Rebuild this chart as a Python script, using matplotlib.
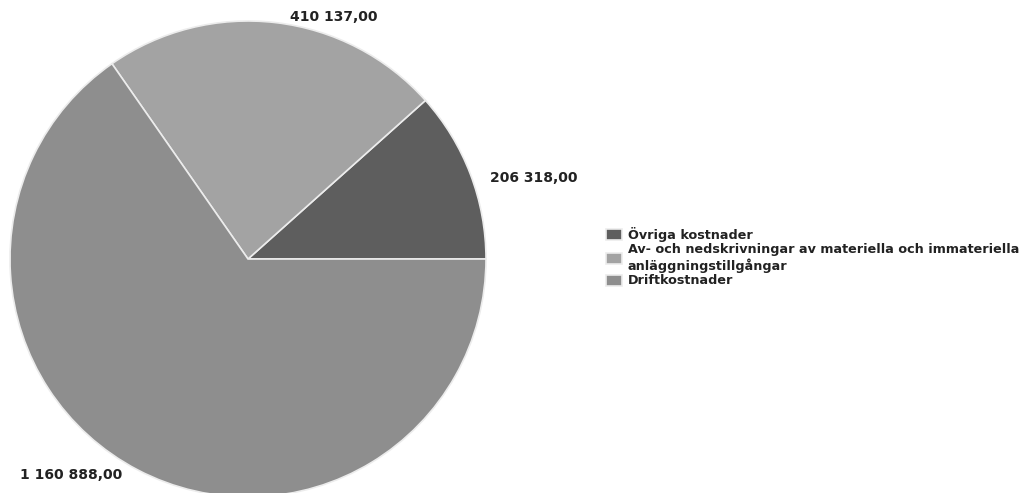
import matplotlib.pyplot as plt

# data
labels = ['Övriga kostnader',
          'Av- och nedskrivningar av materiella och immateriella\nanläggningstillgångar',
          'Driftkostnader']
values = [206318.00, 410137.00, 1160888.00]
value_text = ['206 318,00', '410 137,00', '1 160 888,00']
colors = ['#5e5e5e', '#a3a3a3', '#8e8e8e']

W, H = 1032, 493
fig = plt.figure(figsize=(W / 100, H / 100), dpi=100)

# pie centre at (248, 259) px, radius 238 px
cx, cy, r = 248, 259, 238
ax = fig.add_axes([(cx - r) / W, (H - cy - r) / H, 2 * r / W, 2 * r / H])
wedges, _ = ax.pie(values, colors=colors, startangle=0, counterclock=True,
                   radius=1, wedgeprops=dict(edgecolor='#ececec', linewidth=1.2))
ax.set_xlim(-1, 1)
ax.set_ylim(-1, 1)
ax.set_aspect('equal')
ax.axis('off')

# value labels (placed like the original)
lab_pos = [(490, 178), (290, 17), (20, 475)]
for (px, py), t in zip(lab_pos, value_text):
    fig.text(px / W, 1 - py / H, t, fontsize=10, fontweight='bold',
             color='#222222', ha='left', va='center')

leg = fig.legend(wedges, labels, loc='upper left',
                 bbox_to_anchor=(606 / W, 1 - 227 / H), frameon=False,
                 prop=dict(size=9.2, weight='bold'), handlelength=1.25,
                 handleheight=0.95, handletextpad=0.45, labelspacing=0.1,
                 borderaxespad=0, borderpad=0)
for t in leg.get_texts():
    t.set_color('#222222')

fig.savefig('out.png', dpi=100)
